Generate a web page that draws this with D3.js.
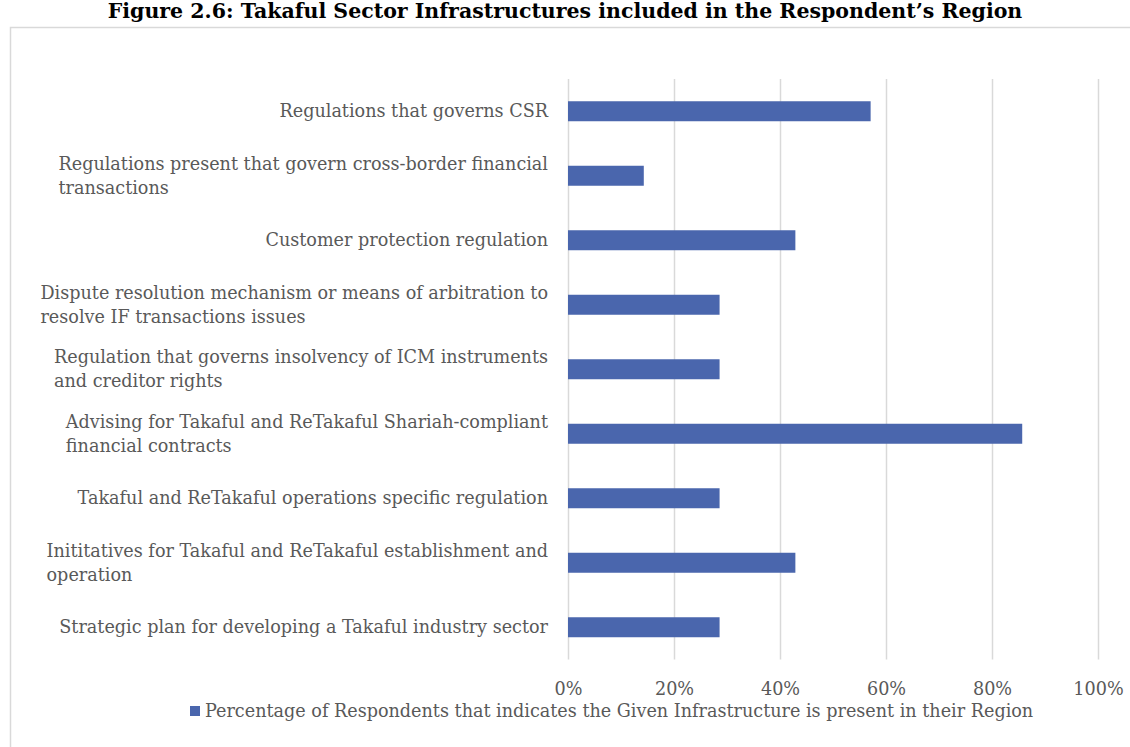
<!DOCTYPE html>
<html>
<head>
<meta charset="utf-8">
<script src="https://cdn.jsdelivr.net/npm/d3@7"></script>
<style>
html,body{margin:0;padding:0;background:#fff;}
svg{display:block;}
</style>
</head>
<body>
<svg id="chart" width="1130" height="747"></svg>
<script>
const titleText = "Figure 2.6: Takaful Sector Infrastructures included in the Respondent\u2019s Region";
const categories = [
  "Regulations that governs CSR",
  "Regulations present that govern cross-border financial\ntransactions",
  "Customer protection regulation",
  "Dispute resolution mechanism or means of arbitration to\nresolve IF transactions issues",
  "Regulation that governs insolvency of ICM instruments\nand creditor rights",
  "Advising for Takaful and ReTakaful Shariah-compliant\nfinancial contracts",
  "Takaful and ReTakaful operations specific regulation",
  "Inititatives for Takaful and ReTakaful establishment and\noperation",
  "Strategic plan for developing a Takaful industry sector"
];
const values = [0.571, 0.143, 0.429, 0.286, 0.286, 0.857, 0.286, 0.429, 0.286];
const tickValues = [0, 0.2, 0.4, 0.6, 0.8, 1.0];
const seriesName = "Percentage of Respondents that indicates the Given Infrastructure is present in their Region";

const FONT = "'DejaVu Serif', 'Liberation Serif', serif";
const TEXT = "#595959";
const BAR = "#4a66ad";
const GRID = "#d9d9d9";
const FS = 17.6;

const svg = d3.select("#chart");

// chart border
svg.append("rect")
  .attr("x", 10.5).attr("y", 27.5)
  .attr("width", 1140).attr("height", 740)
  .attr("fill", "#fff").attr("stroke", GRID).attr("stroke-width", 1.5);

// title
svg.append("text")
  .attr("x", 565).attr("y", 18)
  .attr("text-anchor", "middle")
  .attr("font-family", FONT)
  .attr("font-weight", "bold")
  .attr("font-size", 20.5)
  .attr("fill", "#000")
  .text(titleText);

const x = d3.scaleLinear().domain([0, 1]).range([568, 1098]);
const y = d3.scaleBand().domain(categories).range([79, 659.5])
  .paddingInner(0.69).paddingOuter(0.345);

// gridlines + x axis labels
const xAxis = d3.axisBottom(x)
  .tickValues(tickValues)
  .tickFormat(d3.format(".0%"))
  .tickSize(-(659.5 - 79))
  .tickPadding(23);

const gx = svg.append("g")
  .attr("transform", "translate(0,659.5)")
  .call(xAxis);
gx.select(".domain").remove();
gx.selectAll(".tick line").attr("stroke", GRID).attr("stroke-width", 1.5);
gx.selectAll(".tick text")
  .attr("font-family", FONT).attr("font-size", FS).attr("fill", TEXT);

// bars
svg.append("g").selectAll("rect")
  .data(categories)
  .join("rect")
  .attr("x", x(0))
  .attr("y", d => y(d))
  .attr("width", (d, i) => x(values[i]) - x(0))
  .attr("height", y.bandwidth())
  .attr("fill", BAR);

// category labels (right-aligned block, left-aligned lines)
const lblG = svg.append("g");
categories.forEach(c => {
  const lines = c.split("\n");
  const cy = y(c) + y.bandwidth() / 2;
  const lh = 24;
  const t = lblG.append("text")
    .attr("font-family", FONT).attr("font-size", FS).attr("fill", TEXT);
  let maxW = 0;
  const spans = lines.map((ln, k) => {
    const s = t.append("tspan")
      .attr("x", 0)
      .attr("y", cy + (k - (lines.length - 1) / 2) * lh)
      .attr("dy", "0.35em")
      .text(ln);
    maxW = Math.max(maxW, s.node().getComputedTextLength());
    return s;
  });
  spans.forEach(s => s.attr("x", 548 - maxW));
});

// legend
svg.append("rect")
  .attr("x", 190).attr("y", 706).attr("width", 10).attr("height", 10)
  .attr("fill", BAR);
svg.append("text")
  .attr("x", 205).attr("y", 711).attr("dy", "0.35em")
  .attr("font-family", FONT).attr("font-size", FS).attr("fill", TEXT)
  .text(seriesName);
</script>
</body>
</html>
